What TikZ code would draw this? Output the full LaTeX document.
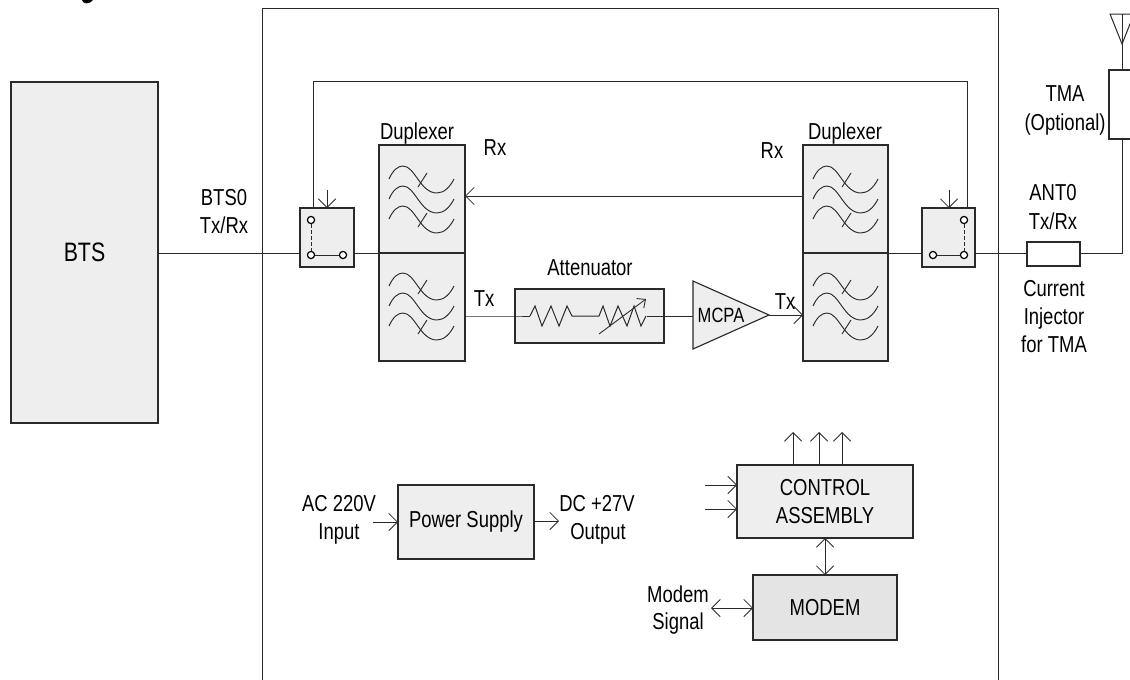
\documentclass[tikz,border=0pt]{standalone}
\usepackage{fontspec}
\setmainfont[FakeStretch=0.8]{Liberation Sans}
\usetikzlibrary{arrows.meta}
\definecolor{boxfill}{HTML}{EEEEEE}
\definecolor{modemfill}{HTML}{E4E4E4}
\definecolor{ink}{HTML}{2A2A2A}
\newcommand{\pxbox}[7]{\node[draw=ink,line width=0.85pt,inner sep=0pt,outer sep=0pt,align=center,
  minimum width={(#4-#2)*0.75pt},minimum height={(#5-#3)*0.75pt},#6] (#1) at ({(#2+#4)/2},{(#3+#5)/2}) {#7};}
\newcommand{\filterset}[2]{%
  \begin{scope}[shift={(#1,#2)},line width=0.7pt,draw=ink]
    \foreach \d in {0,20,40}{
      \draw (0,\d) .. controls (4,\d-9) and (9,\d-13) .. (14,\d-13)
        .. controls (26,\d-13) and (31,\d+14) .. (48,\d+14)
        .. controls (55,\d+14) and (61,\d+8) .. (65,\d);
    }
    \draw (29,8) -- (38,-6);
    \draw (29,48) -- (38,34);
  \end{scope}}
\tikzset{
  x=0.75pt,y=-0.75pt,
  wire/.style={draw=ink,line width=0.75pt},
  thin wire/.style={draw=ink,line width=0.65pt},
  arrowed/.style={wire,-{Straight Barb[length=6.5pt,width=13pt,line width=0.65pt]}},
  darrowed/.style={wire,{Straight Barb[length=6.5pt,width=13pt,line width=0.65pt]}-{Straight Barb[length=6.5pt,width=13pt,line width=0.65pt]}},
  lab/.style={font=\fontsize{17.3}{17.3}\selectfont,inner sep=0pt,text=black,text height=12.4pt,text depth=0pt},
  grey box/.style={fill=boxfill},
  white box/.style={fill=white},
  contact/.style={circle,draw=black,fill=white,line width=0.9pt,minimum size=5.4pt,inner sep=0pt,outer sep=0pt},
}
\begin{document}
\begin{tikzpicture}
\useasboundingbox (0,0) rectangle (1130,679);
\clip (0,0) rectangle (1130,679);
% clipped title fragment
\fill[black] (82,0) .. controls (83,3.5) and (88,5.5) .. (93,0) -- cycle;

% outer assembly outline
\coordinate (frameBL) at (262,690);
\coordinate (frameTL) at (262,8);
\coordinate (frameTR) at (998,8);
\coordinate (frameBR) at (998,690);
\draw[wire] (frameBL) -- (frameTL) -- (frameTR) -- (frameBR);

\pxbox{bts}{11}{82}{158}{423}{grey box,font=\fontsize{20}{20}\selectfont}{BTS}
\pxbox{swL}{300}{208}{354}{267}{grey box}{}
\pxbox{swR}{922}{208}{975}{267}{grey box}{}
\pxbox{dupLt}{379}{145}{465}{253}{grey box}{}
\pxbox{dupLb}{379}{253}{465}{361}{grey box}{}
\pxbox{dupRt}{803}{145}{888}{253}{grey box}{}
\pxbox{dupRb}{803}{253}{888}{361}{grey box}{}
\pxbox{atten}{515}{289}{664}{343}{grey box}{}
\pxbox{inj}{1027}{242}{1080}{266}{white box}{}
\pxbox{tma}{1109}{70}{1150}{139}{white box}{}
\pxbox{psu}{398}{485}{534}{559}{grey box,font=\fontsize{17.3}{17.3}\selectfont}{Power Supply}
\pxbox{ctrl}{737}{465}{913}{538}{grey box,font=\fontsize{17.3}{21}\selectfont}{CONTROL\\ASSEMBLY}
\pxbox{modem}{753}{575}{897}{640}{fill=modemfill,font=\fontsize{17.3}{17.3}\selectfont}{MODEM}

% filters
\filterset{389}{179}
\filterset{389}{286}
\filterset{813}{179}
\filterset{813}{286}

% MCPA
\coordinate (mA) at (693,281);
\coordinate (mB) at (693,349);
\coordinate (mC) at (769,315);
\draw[wire,line width=0.85pt,fill=boxfill] (mA) -- (mC) -- (mB) -- cycle;
\node[font=\fontsize{15.5}{15.5}\selectfont,inner sep=0pt] (mcpa) at (721,315) {MCPA};

% switches
\node[contact] (cL1) at (311,220) {};
\node[contact] (cL2) at (311,255) {};
\node[contact] (cL3) at (343,255) {};
\node[contact] (cR1) at (964,220) {};
\node[contact] (cR2) at (964,255) {};
\node[contact] (cR3) at (933,255) {};
\draw[thin wire,dashed,dash pattern=on 3pt off 1.6pt] (cL1) -- (cL2);
\draw[wire] (cL2) -- (cL3);
\draw[thin wire,dashed,dash pattern=on 3pt off 1.6pt] (cR1) -- (cR2);
\draw[wire] (cR2) -- (cR3);
\coordinate (swLctl) at (327,190);
\coordinate (swRctl) at (949,190);
\draw[arrowed] (swLctl) -- (swLctl |- swL.north);
\draw[arrowed] (swRctl) -- (swRctl |- swR.north);

% signal wires
\draw[wire] (bts.east |- 0,253) -- (swL.west |- 0,253);
\draw[wire] (swL.east |- 0,253) -- (dupLt.south west);
\draw[wire] (dupRt.south east) -- (swR.west |- 0,253);
\draw[wire] (swR.east |- 0,253) -- (inj.west |- 0,253);
\coordinate (feedL) at (313,81);
\coordinate (feedR) at (967,81);
\draw[wire] (feedL |- swL.north) -- (feedL) -- (feedR) -- (feedR |- swR.north);
\draw[arrowed] (dupRt.west |- 0,196) -- (dupLt.east |- 0,196);
\draw[wire] (dupLb.east |- 0,316) -- (atten.west |- 0,316) -- (530,316);
\draw[wire] (530,316) -- (535,306) -- (542,326) -- (551,306) -- (559,326) -- (567,306) -- (572,316) -- (599,316)
  -- (603,306) -- (610,326) -- (618,306) -- (627,326) -- (634,306) -- (641,326) -- (646,316);
\draw[wire] (647,316) -- (atten.east |- 0,316);
\coordinate (rvA) at (599,334);
\coordinate (rvB) at (646,299);
\draw[thin wire,-{Straight Barb[length=5pt,width=9pt,line width=0.65pt]}] (rvA) -- (rvB);
\draw[wire] (atten.east |- 0,316) -- (mA |- 0,316);
\draw[arrowed] (mC) -- (dupRb.west |- mC);
\coordinate (tmaFeed) at (1122,253);
\draw[wire] (inj.east |- tmaFeed) -- (tmaFeed) -- (tmaFeed |- tma.south);
\coordinate (antTop) at (1122,14);
\coordinate (antL) at (1110,14);
\coordinate (antR) at (1134,14);
\coordinate (antTip) at (1122,44);
\draw[wire] (antL) -- (antR) -- (antTip) -- cycle;
\draw[wire] (antTop) -- (antTop |- tma.north);

% supply and control wires
\draw[arrowed] (373,522) -- (psu.west |- 0,522);
\draw[arrowed] (psu.east |- 0,521) -- (559,521);
\draw[arrowed] (ctrl.north -| 793,0) -- (793,432);
\draw[arrowed] (ctrl.north -| 819,0) -- (819,432);
\draw[arrowed] (ctrl.north -| 842,0) -- (842,432);
\draw[arrowed] (705,485) -- (ctrl.west |- 0,485);
\draw[arrowed] (705,509) -- (ctrl.west |- 0,509);
\draw[darrowed] (ctrl.south) -- (ctrl.south |- modem.north);
\draw[darrowed] (711,608) -- (modem.west |- 0,608);

% labels
\node[lab] (lbts0) at (224,197) {BTS0};
\node[lab] (lbts1) at (224,225) {Tx/Rx};
\node[lab] (ldupL) at (417,131) {Duplexer};
\node[lab] (ldupR) at (845,131) {Duplexer};
\node[lab] (lrxL) at (495,147) {Rx};
\node[lab] (lrxR) at (772,150) {Rx};
\node[lab] (ltxL) at (484,298) {Tx};
\node[lab] (ltxR) at (785,301) {Tx};
\node[lab] (lat) at (590,267) {Attenuator};
\node[lab] (ltma0) at (1065,93) {TMA};
\node[lab] (ltma1) at (1065,122) {(Optional)};
\node[lab] (lant0) at (1053,192) {ANT0};
\node[lab] (lant1) at (1053,221) {Tx/Rx};
\node[lab] (linj0) at (1054,288) {Current};
\node[lab] (linj1) at (1054,316) {Injector};
\node[lab] (linj2) at (1054,344) {for TMA};
\node[lab] (lac0) at (339,503) {AC 220V};
\node[lab] (lac1) at (339,531) {Input};
\node[lab] (ldc0) at (597,503) {DC +27V};
\node[lab] (ldc1) at (598,531) {Output};
\node[lab] (lmo0) at (678,594) {Modem};
\node[lab] (lmo1) at (678,621) {Signal};
\end{tikzpicture}
\end{document}
